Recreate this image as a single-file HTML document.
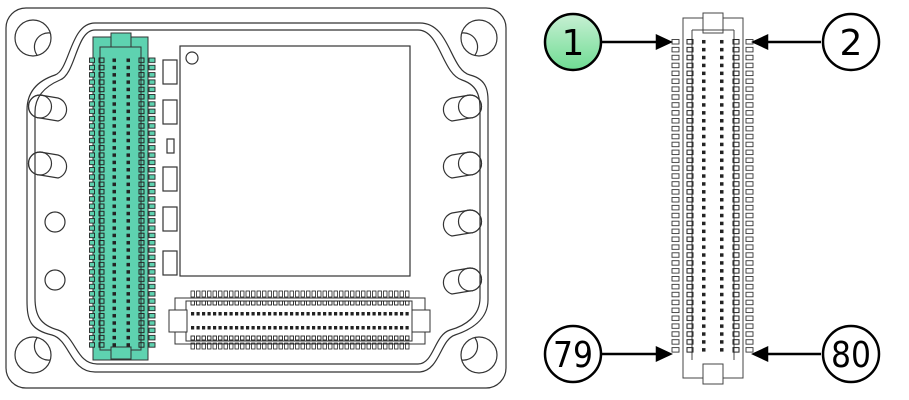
<!DOCTYPE html>
<html><head><style>html,body{margin:0;padding:0;background:#fff}svg{display:block}</style></head>
<body>
<svg width="909" height="400" viewBox="0 0 909 400" xmlns="http://www.w3.org/2000/svg" font-family="DejaVu Sans, Liberation Sans, sans-serif">
<defs>
<linearGradient id="g1" x1="0" y1="0" x2="0" y2="1"><stop offset="0" stop-color="#c8f0d4"/><stop offset="1" stop-color="#6fdc93"/></linearGradient>
<pattern id="lp" x="88" y="57" width="70" height="7.3" patternUnits="userSpaceOnUse">
<rect x="1.5" y="1" width="5" height="4.5" fill="#5ed2b0" stroke="#222" stroke-width="0.9"/>
<rect x="11" y="1" width="5" height="4.5" fill="none" stroke="#222" stroke-width="1"/>
<rect x="24.5" y="1.5" width="3.5" height="3.5" fill="#222"/>
<rect x="38.5" y="1.5" width="3.5" height="3.5" fill="#222"/>
<rect x="51" y="1" width="5" height="4.5" fill="none" stroke="#222" stroke-width="1"/>
<rect x="61" y="1" width="6" height="4.5" fill="#5ed2b0" stroke="#222" stroke-width="0.9"/>
</pattern>
<pattern id="rp" x="671" y="38" width="84" height="7.9" patternUnits="userSpaceOnUse">
<rect x="1" y="1.5" width="7" height="4.5" fill="#fff" stroke="#333" stroke-width="0.9"/>
<rect x="16" y="1.5" width="6" height="4.5" fill="none" stroke="#222" stroke-width="1"/>
<rect x="31" y="2" width="3.5" height="3.5" fill="#222"/>
<rect x="49" y="2" width="3.5" height="3.5" fill="#222"/>
<rect x="62" y="1.5" width="6" height="4.5" fill="none" stroke="#222" stroke-width="1"/>
<rect x="75" y="1.5" width="7" height="4.5" fill="#fff" stroke="#333" stroke-width="0.9"/>
</pattern>
<pattern id="bp" x="190" y="290" width="5.5" height="60" patternUnits="userSpaceOnUse">
<rect x="1" y="1" width="3.5" height="6" fill="none" stroke="#222" stroke-width="0.8"/>
<rect x="1" y="11" width="3.5" height="4" fill="none" stroke="#222" stroke-width="0.9"/>
<rect x="1" y="22" width="3.2" height="3.5" fill="#222"/>
<rect x="1" y="36" width="3.2" height="3.5" fill="#222"/>
<rect x="1" y="46" width="3.5" height="4" fill="none" stroke="#222" stroke-width="0.9"/>
<rect x="1" y="53" width="3.5" height="6" fill="none" stroke="#222" stroke-width="0.8"/>
</pattern>
</defs>
<g fill="none" stroke="#333" stroke-width="1.2">
<rect x="6" y="8" width="500" height="380" rx="20"/>
<path d="M95,23 H420 C450,23 450,70 470,75 C490,80 488,95 488,110 V300 C488,320 470,330 455,335 C440,340 440,370 420,372 H95 C70,372 70,340 52,335 C30,330 27,320 27,300 V110 C27,90 40,80 55,75 C70,70 70,23 95,23 Z"/>
<path d="M95,30 H418 C440,30 442,74 462,80 C480,86 480,100 480,112 V298 C480,316 465,326 450,330 C434,335 434,364 418,364 H97 C76,364 76,336 58,330 C40,325 35,315 35,298 V112 C35,96 46,86 60,80 C76,74 76,30 95,30 Z"/>
<circle cx="33" cy="38" r="18"/><path d="M37,55 A14 14 0 0 1 50,33"/>
<circle cx="479" cy="38" r="18"/><path d="M475,55 A14 14 0 0 0 462,33"/>
<circle cx="33" cy="355" r="18"/><path d="M37,338 A14 14 0 0 0 50,360"/>
<circle cx="479" cy="355" r="18"/><path d="M475,338 A14 14 0 0 1 462,360"/>
<path d="M40,95 L58,98 A12 12 0 0 1 58,121 L40,118 A11.5 11.5 0 0 1 40,95Z"/><circle cx="40" cy="106.5" r="11.5"/>
<path d="M40,152 L58,155 A12 12 0 0 1 58,178 L40,175 A11.5 11.5 0 0 1 40,152Z"/><circle cx="40" cy="163.5" r="11.5"/>
<circle cx="55" cy="222" r="10"/><circle cx="55" cy="280" r="10"/>
<path d="M470,95 L452,98 A12 12 0 0 0 452,121 L470,118 A11.5 11.5 0 0 0 470,95Z"/><circle cx="470" cy="106.5" r="11.5"/>
<path d="M470,152 L452,155 A12 12 0 0 0 452,178 L470,175 A11.5 11.5 0 0 0 470,152Z"/><circle cx="470" cy="163.5" r="11.5"/>
<path d="M470,210 L452,213 A12 12 0 0 0 452,236 L470,233 A11.5 11.5 0 0 0 470,210Z"/><circle cx="470" cy="221.5" r="11.5"/>
<path d="M470,268 L452,271 A12 12 0 0 0 452,294 L470,291 A11.5 11.5 0 0 0 470,268Z"/><circle cx="470" cy="279.5" r="11.5"/>
<rect x="180" y="46" width="230" height="230"/>
<circle cx="192" cy="58" r="6"/>
<rect x="163" y="60" width="14" height="24"/><rect x="163" y="100" width="14" height="24"/>
<rect x="167" y="139" width="7" height="14"/><rect x="163" y="167" width="14" height="24"/>
<rect x="163" y="207" width="14" height="24"/><rect x="163" y="251" width="14" height="24"/>
</g>
<rect x="93" y="37" width="55" height="323" fill="#5ed2b0" stroke="#333"/>
<rect x="100" y="47" width="41" height="303" fill="none" stroke="#333"/>
<rect x="111" y="33" width="20" height="14" fill="#5ed2b0" stroke="#333"/>
<rect x="111" y="347" width="20" height="12" fill="#5ed2b0" stroke="#333"/>
<rect x="88" y="57" width="70" height="292" fill="url(#lp)"/>
<rect x="175" y="298" width="250" height="46" fill="#fff" stroke="#333"/>
<rect x="186" y="301" width="226" height="40" fill="none" stroke="#333"/>
<rect x="169" y="310" width="18" height="22" fill="#fff" stroke="#333"/>
<rect x="412" y="310" width="18" height="22" fill="#fff" stroke="#333"/>
<rect x="190" y="290" width="220" height="60" fill="url(#bp)"/>
<rect x="683" y="18" width="60" height="360" fill="#fff" stroke="#444"/>
<rect x="703" y="13" width="20" height="20" fill="#fff" stroke="#444"/>
<rect x="703" y="364" width="20" height="20" fill="#fff" stroke="#444"/>
<path d="M692,30 H734 M692,30 V360 M734,30 V360" stroke="#444" fill="none"/>
<rect x="671" y="38" width="84" height="316" fill="url(#rp)"/>
<g stroke="#000" stroke-width="2.5" fill="#000">
<line x1="602" y1="42" x2="658" y2="42"/><path d="M670,42 L657,36 V48Z"/>
<line x1="821" y1="42" x2="766" y2="42"/><path d="M754,42 L767,36 V48Z"/>
<line x1="602" y1="354" x2="658" y2="354"/><path d="M670,354 L657,348 V360Z"/>
<line x1="821" y1="354" x2="766" y2="354"/><path d="M754,354 L767,348 V360Z"/>
</g>
<g stroke="#000" stroke-width="2.5">
<circle cx="573" cy="42" r="28" fill="url(#g1)"/>
<circle cx="851" cy="42" r="28" fill="#fff"/>
<circle cx="573" cy="354" r="28" fill="#fff"/>
<circle cx="851" cy="354" r="28" fill="#fff"/>
</g>
<g font-size="36" text-anchor="middle" fill="#000" font-weight="500">
<text x="573" y="55" textLength="20">1</text><text x="851" y="55">2</text>
<text x="573" y="367" textLength="40" lengthAdjust="spacingAndGlyphs">79</text><text x="851" y="367" textLength="40" lengthAdjust="spacingAndGlyphs">80</text>
</g>
</svg>
</body></html>
